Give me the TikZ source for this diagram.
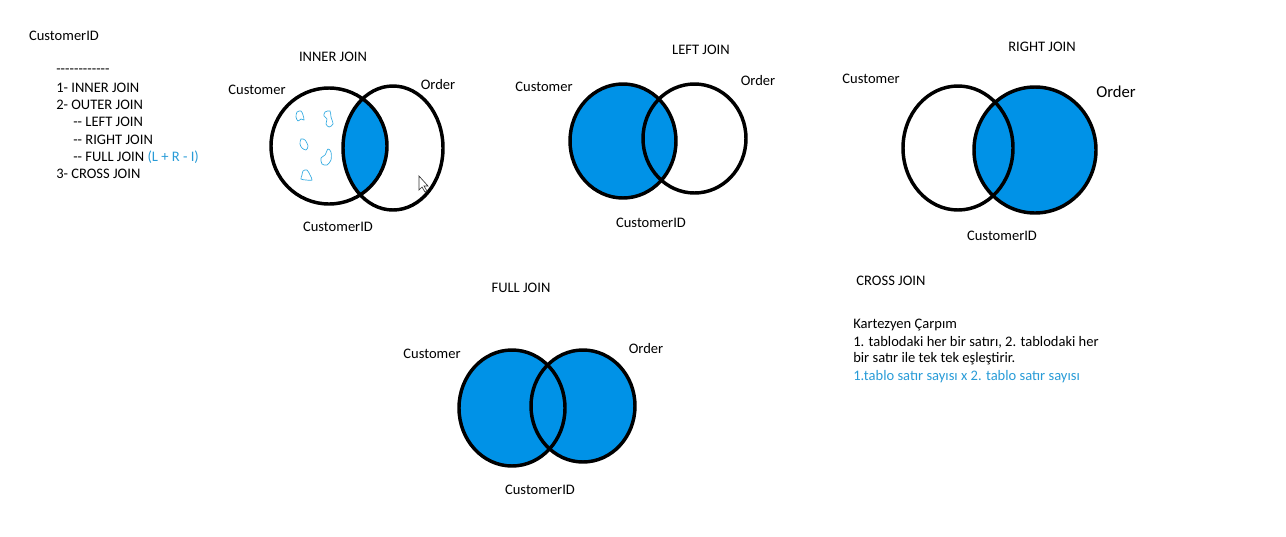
\documentclass[tikz,border=0pt]{standalone}
\usepackage{fontspec}
\setmainfont{Carlito}
\usetikzlibrary{positioning}

\definecolor{joinblue}{RGB}{0,146,231}
\definecolor{noteblue}{RGB}{40,155,215}
\definecolor{blobcyan}{RGB}{50,170,225}

\tikzset{
  venn/.style={line width=2.6pt},
  lbl/.style={inner sep=0pt, font=\fontsize{10.9}{13}\selectfont},
  item/.style={lbl, anchor=west},
  blob/.style={blobcyan, line width=0.5pt},
}

\begin{document}
\begin{tikzpicture}[x=0.75pt,y=-0.75pt]
  \useasboundingbox (0,0) rectangle (1286,536);

  % notes on the left
  \node[lbl] (topid) at (64,36) {CustomerID};
  \node[item] (dashes) at (56,71) {-{}-{}-{}-{}-{}-{}-{}-{}-{}-{}-{}-};
  \node[item] (inner) at (56,88) {1- INNER JOIN};
  \node[item] (outer) at (56,105) {2- OUTER JOIN};
  \node[item] (left) at (73,122) {-{}- LEFT JOIN};
  \node[item] (right) at (73,140) {-{}- RIGHT JOIN};
  \node[item] (full) at (73,157) {-{}- FULL JOIN \textcolor{noteblue}{(L + R - I)}};
  \node[item] (cross) at (56,174) {3- CROSS JOIN};

  % inner join
  \begin{scope}
    \clip (329,146) ellipse [x radius=58, y radius=58];
    \fill[joinblue] (393,148) ellipse [x radius=50, y radius=62];
  \end{scope}
  \draw[venn] (329,146) ellipse [x radius=58, y radius=58];
  \draw[venn] (393,148) ellipse [x radius=50, y radius=62];
  \draw[blob] plot[smooth cycle] coordinates {(297,112) (301,111) (303,115) (304,120) (301,119) (298,121) (296,117)};
  \draw[blob] plot[smooth cycle] coordinates {(325,112) (330,111) (331,117) (333,124) (329,127) (326,124) (327,119) (324,116)};
  \draw[blob] plot[smooth cycle] coordinates {(301,139) (305,140) (308,146) (306,150) (302,148) (300,144)};
  \draw[blob] plot[smooth cycle] coordinates {(328,149) (331,152) (331,160) (327,165) (322,164) (321,158) (325,155)};
  \draw[blob] plot[smooth cycle] coordinates {(303,171) (307,170) (310,175) (312,180) (306,180) (301,179) (302,175)};
  \draw[black!80, fill=white, line width=0.5pt] (419,176) -- (419,190) -- (422,187) -- (425,192)
    -- (427,191) -- (424,186) -- (428,186) -- cycle;
  \node[lbl] (innertitle) at (333,57) {INNER JOIN};
  \node[lbl] (innercust) at (257,90) {Customer};
  \node[lbl] (innerord) at (438,85) {Order};
  \node[lbl] (innerkey) at (338,227) {CustomerID};

  % left join
  \fill[joinblue] (623,141) ellipse [x radius=53, y radius=57];
  \draw[venn] (623,141) ellipse [x radius=53, y radius=57];
  \draw[venn] (694.5,138.5) ellipse [x radius=51.5, y radius=54.5];
  \node[lbl] (lefttitle) at (701,50) {LEFT JOIN};
  \node[lbl] (leftcust) at (544,87) {Customer};
  \node[lbl] (leftord) at (758,81) {Order};
  \node[lbl] (leftkey) at (651,223) {CustomerID};

  % right join
  \fill[joinblue] (1035,150) ellipse [x radius=61, y radius=63];
  \draw[venn] (958,148) ellipse [x radius=55, y radius=62];
  \draw[venn] (1035,150) ellipse [x radius=61, y radius=63];
  \node[lbl] (righttitle) at (1042,47) {RIGHT JOIN};
  \node[lbl] (rightcust) at (871,79) {Customer};
  \node[lbl, font=\fontsize{12.5}{14}\selectfont] (rightord) at (1116,92) {Order};
  \node[lbl] (rightkey) at (1002,236) {CustomerID};

  % full join
  \fill[joinblue] (512,408) ellipse [x radius=53, y radius=58];
  \fill[joinblue] (583,406) ellipse [x radius=52, y radius=56];
  \draw[venn] (512,408) ellipse [x radius=53, y radius=58];
  \draw[venn] (583,406) ellipse [x radius=52, y radius=56];
  \node[lbl] (fulltitle) at (521,288) {FULL JOIN};
  \node[lbl] (fullcust) at (432,354) {Customer};
  \node[lbl] (fullord) at (646,348) {Order};
  \node[lbl] (fullkey) at (540,490) {CustomerID};

  % cross join
  \node[lbl] (crosstitle) at (891,281) {CROSS JOIN};
  \node[item] (cart) at (853,325) {Kartezyen Çarpım};
  \node[item] (cartA) at (853,342) {1. tablodaki her bir satırı, 2. tablodaki her};
  \node[item] (cartB) at (853,359) {bir satır ile tek tek eşleştirir.};
  \node[item, text=noteblue] (cartC) at (853,377) {1.tablo satır sayısı x 2. tablo satır sayısı};
\end{tikzpicture}
\end{document}
